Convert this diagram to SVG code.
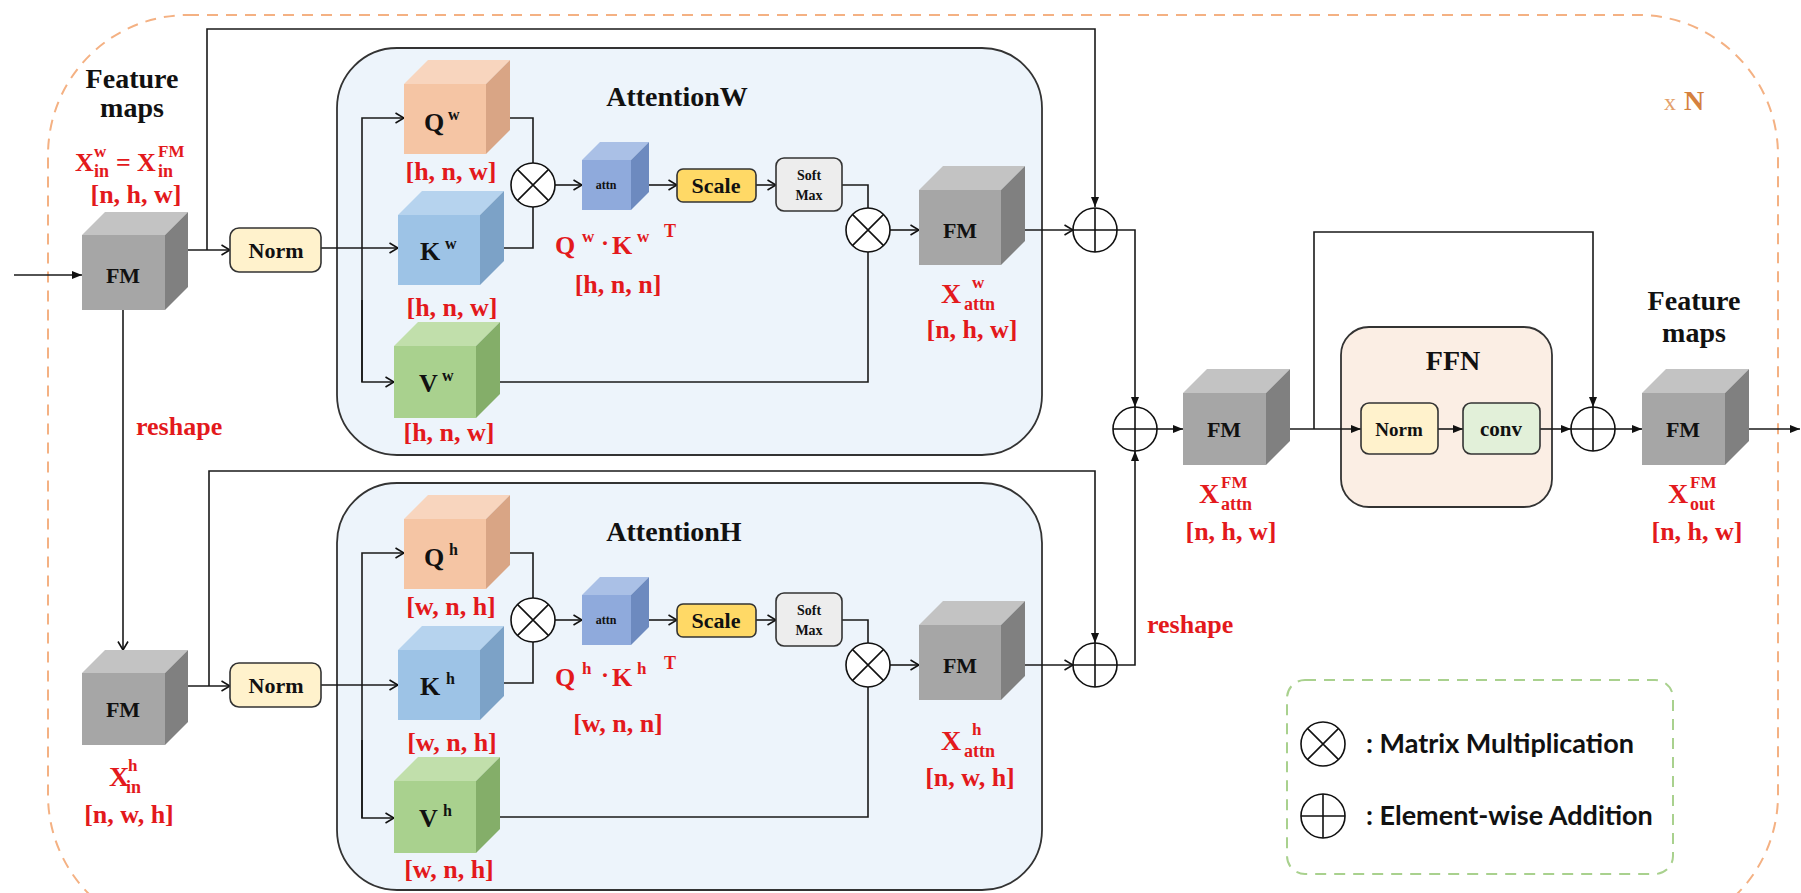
<svg xmlns="http://www.w3.org/2000/svg" width="1801" height="893" viewBox="0 0 1801 893">
<defs>
<style>
.t{font-family:"Liberation Serif","Times New Roman",serif;font-weight:bold;fill:#111}
.r{fill:#E3191C}
.m{text-anchor:middle}
.lb{font-size:26px}
.sup{font-size:17px}
.sub{font-size:18px}
.big{font-size:28px}
.fm{font-size:22px}
.con{fill:none;stroke:#1a1a1a;stroke-width:1.6}
.op{stroke:#111;stroke-width:1.6;fill:#fff}
.panel{fill:#EDF4FB;stroke:#333;stroke-width:1.8}
.box{stroke:#333;stroke-width:1.6}
.fmF{fill:#A6A6A6}.fmT{fill:#C3C3C3}.fmS{fill:#808080}
.qF{fill:#F5C5A4}.qT{fill:#F8D5BE}.qS{fill:#D9A585}
.kF{fill:#9DC3E6}.kT{fill:#B6D3EE}.kS{fill:#7CA2C7}
.vF{fill:#A9D18E}.vT{fill:#C1DFAB}.vS{fill:#84AE69}
.aF{fill:#8FAADC}.aT{fill:#AAC0E6}.aS{fill:#6D8ABF}
.leg{font-family:Lato,"Open Sans","Liberation Sans",sans-serif;font-weight:bold;font-size:27px;fill:#111}
</style>
<marker id="open" viewBox="0 0 10 12" refX="9.5" refY="6" markerWidth="10" markerHeight="12" markerUnits="userSpaceOnUse" orient="auto">
<path d="M1,1 L9.5,6 L1,11" fill="none" stroke="#111" stroke-width="1.6"/>
</marker>
<marker id="tri" viewBox="0 0 10 8" refX="10" refY="4" markerWidth="10" markerHeight="8" markerUnits="userSpaceOnUse" orient="auto">
<path d="M0,0 L10,4 L0,8 z" fill="#111"/>
</marker>
<g id="otimes"><circle r="22" class="op"/><path d="M-15.6,-15.6 L15.6,15.6 M15.6,-15.6 L-15.6,15.6" stroke="#111" stroke-width="1.6"/></g>
<g id="oplus"><circle r="22" class="op"/><path d="M-22,0 H22 M0,-22 V22" stroke="#111" stroke-width="1.6"/></g>
</defs>

<rect width="1801" height="893" fill="#fff"/>

<!-- outer repeat block -->
<g id="repeat-block">
<rect x="48" y="15" width="1730" height="920" rx="140" fill="none" stroke="#F4B183" stroke-width="2" stroke-dasharray="11 8"/>
<text x="1664" y="110" font-family="Liberation Serif,serif" font-size="24" fill="#E3A06A">x</text>
<text x="1684" y="110" font-family="Liberation Serif,serif" font-size="28" font-weight="bold" fill="#D5813E">N</text>
</g>

<!-- panels -->
<g id="attentionW">
<rect class="panel" x="337" y="48" width="705" height="407" rx="60"/>
<text class="t big m" x="677" y="106">AttentionW</text>
</g>
<g id="attentionH">
<rect class="panel" x="337" y="483" width="705" height="407" rx="60"/>
<text class="t big m" x="674" y="541">AttentionH</text>
</g>
<g id="ffn">
<rect x="1341" y="327" width="211" height="180" rx="28" fill="#FBEEE4" stroke="#333" stroke-width="1.8"/>
<text class="t big m" x="1453" y="370">FFN</text>
</g>

<!-- connectors -->
<g id="connectors">
<path class="con" d="M14,275 H82" marker-end="url(#tri)"/>
<path class="con" d="M188,250 H230" marker-end="url(#open)"/>
<path class="con" d="M207,250 V29 H1095 V207" marker-end="url(#tri)"/>
<path class="con" d="M321,248 H398" marker-end="url(#open)"/>
<path class="con" d="M362,382 V118 H404" marker-end="url(#open)"/>
<path class="con" d="M362,300 V382 H394" marker-end="url(#open)"/>
<path class="con" d="M510,118 H533 V163"/>
<path class="con" d="M504,248 H533 V207"/>
<path class="con" d="M555,185 H582" marker-end="url(#open)"/>
<path class="con" d="M649,185 H677" marker-end="url(#open)"/>
<path class="con" d="M756,185 H776" marker-end="url(#open)"/>
<path class="con" d="M842,185 H868 V208"/>
<path class="con" d="M500,382 H868 V252"/>
<path class="con" d="M890,230 H919" marker-end="url(#open)"/>
<path class="con" d="M1025,230 H1073" marker-end="url(#open)"/>
<path class="con" d="M1117,230 H1135 V407" marker-end="url(#tri)"/>
<path class="con" d="M1157,429 H1183" marker-end="url(#tri)"/>
<path class="con" d="M1290,429 H1361" marker-end="url(#tri)"/>
<path class="con" d="M1314,429 V232 H1593 V407" marker-end="url(#tri)"/>
<path class="con" d="M1438,429 H1463" marker-end="url(#tri)"/>
<path class="con" d="M1540,429 H1571" marker-end="url(#tri)"/>
<path class="con" d="M1615,429 H1642" marker-end="url(#tri)"/>
<path class="con" d="M1749,429 H1800" marker-end="url(#tri)"/>
<path class="con" d="M123,310 V650" marker-end="url(#open)"/>
<path class="con" d="M188,686 H230" marker-end="url(#open)"/>
<path class="con" d="M209,686 V471 H1095 V643" marker-end="url(#tri)"/>
<path class="con" d="M321,685 H398" marker-end="url(#open)"/>
<path class="con" d="M362,818 V553 H404" marker-end="url(#open)"/>
<path class="con" d="M362,740 V818 H394" marker-end="url(#open)"/>
<path class="con" d="M510,553 H533 V598"/>
<path class="con" d="M504,683 H533 V642"/>
<path class="con" d="M555,620 H582" marker-end="url(#open)"/>
<path class="con" d="M649,620 H677" marker-end="url(#open)"/>
<path class="con" d="M756,620 H776" marker-end="url(#open)"/>
<path class="con" d="M842,620 H868 V643"/>
<path class="con" d="M500,817 H868 V687"/>
<path class="con" d="M890,665 H919" marker-end="url(#open)"/>
<path class="con" d="M1025,665 H1073" marker-end="url(#open)"/>
<path class="con" d="M1117,665 H1135 V451" marker-end="url(#tri)"/>
</g>

<!-- left inputs -->
<g id="fm-in-w">
<polygon class="fmT" points="82,235 105,212 188,212 165,235"/>
<polygon class="fmS" points="165,235 188,212 188,287 165,310"/>
<rect class="fmF" x="82" y="235" width="83" height="75"/>
<text class="t fm m" x="123" y="283">FM</text>
<text class="t big m" x="132" y="88" font-size="27">Feature</text>
<text class="t big m" x="132" y="117" font-size="27">maps</text>
<text class="t r lb" x="75" y="171">X<tspan class="sup" x="94" y="157">w</tspan><tspan class="sub" x="94" y="177">in</tspan><tspan x="116" y="171">=</tspan><tspan x="137" y="171">X</tspan><tspan class="sup" x="158" y="157">FM</tspan><tspan class="sub" x="158" y="177">in</tspan></text>
<text class="t r lb m" x="136" y="203">[n, h, w]</text>
</g>
<g id="norm-w">
<rect class="box" x="230" y="228" width="91" height="44" rx="9" fill="#FFF2CC"/>
<text class="t fm m" x="276" y="258">Norm</text>
</g>
<g id="reshape-left"><text class="t r lb" x="136" y="435" font-size="27">reshape</text></g>

<g id="fm-in-h">
<polygon class="fmT" points="82,673 105,650 188,650 165,673"/>
<polygon class="fmS" points="165,673 188,650 188,722 165,745"/>
<rect class="fmF" x="82" y="673" width="83" height="72"/>
<text class="t fm m" x="123" y="717">FM</text>
<text class="t r big" x="109" y="786">X<tspan class="sup" x="128" y="771">h</tspan><tspan class="sub" x="126" y="793">in</tspan></text>
<text class="t r lb m" x="129" y="823">[n, w, h]</text>
</g>
<g id="norm-h">
<rect class="box" x="230" y="663" width="91" height="44" rx="9" fill="#FFF2CC"/>
<text class="t fm m" x="276" y="693">Norm</text>
</g>

<!-- AttentionW nodes -->
<g id="q-w">
<polygon class="qT" points="404,84 428,60 510,60 486,84"/>
<polygon class="qS" points="486,84 510,60 510,130 486,154"/>
<rect class="qF" x="404" y="84" width="82" height="70"/>
<text class="t lb" x="424" y="131">Q<tspan font-size="16" x="448" y="120">w</tspan></text>
<text class="t r lb m" x="451" y="180">[h, n, w]</text>
</g>
<g id="k-w">
<polygon class="kT" points="398,215 422,191 504,191 480,215"/>
<polygon class="kS" points="480,215 504,191 504,261 480,285"/>
<rect class="kF" x="398" y="215" width="82" height="70"/>
<text class="t lb" x="420" y="260">K<tspan font-size="16" x="445" y="249">w</tspan></text>
<text class="t r lb m" x="452" y="316">[h, n, w]</text>
</g>
<g id="v-w">
<polygon class="vT" points="394,346 418,322 500,322 476,346"/>
<polygon class="vS" points="476,346 500,322 500,394 476,418"/>
<rect class="vF" x="394" y="346" width="82" height="72"/>
<text class="t lb" x="419" y="392">V<tspan font-size="16" x="442" y="381">w</tspan></text>
<text class="t r lb m" x="449" y="441">[h, n, w]</text>
</g>
<g id="mul1-w"><use href="#otimes" x="533" y="185"/></g>
<g id="attn-w">
<polygon class="aT" points="582,160 600,142 649,142 631,160"/>
<polygon class="aS" points="631,160 649,142 649,192 631,210"/>
<rect class="aF" x="582" y="160" width="49" height="50"/>
<text class="t m" x="606" y="189" font-size="12">attn</text>
<text class="t r lb" x="555" y="254">Q<tspan class="sup" x="582" y="242">w</tspan><tspan x="601" y="251" font-size="24">·</tspan><tspan x="612" y="254">K</tspan><tspan class="sup" x="637" y="242">w</tspan><tspan class="sub" x="664" y="237">T</tspan></text>
<text class="t r lb m" x="618" y="293">[h, n, n]</text>
</g>
<g id="scale-w">
<rect class="box" x="677" y="169" width="79" height="33" rx="6" fill="#FFD966"/>
<text class="t fm m" x="716" y="193">Scale</text>
</g>
<g id="softmax-w">
<rect class="box" x="776" y="158" width="66" height="53" rx="8" fill="#EDEDED"/>
<text class="t m" x="809" y="180" font-size="14" fill="#333">Soft</text>
<text class="t m" x="809" y="200" font-size="14" fill="#333">Max</text>
</g>
<g id="mul2-w"><use href="#otimes" x="868" y="230"/></g>
<g id="fm-attn-w">
<polygon class="fmT" points="919,190 943,166 1025,166 1001,190"/>
<polygon class="fmS" points="1001,190 1025,166 1025,241 1001,265"/>
<rect class="fmF" x="919" y="190" width="82" height="75"/>
<text class="t fm m" x="960" y="238">FM</text>
<text class="t r big" x="941" y="303">X<tspan class="sup" x="972" y="288">w</tspan><tspan class="sub" x="964" y="310">attn</tspan></text>
<text class="t r lb m" x="972" y="338">[n, h, w]</text>
</g>
<g id="add-w"><use href="#oplus" x="1095" y="230"/></g>

<!-- AttentionH nodes -->
<g id="q-h">
<polygon class="qT" points="404,519 428,495 510,495 486,519"/>
<polygon class="qS" points="486,519 510,495 510,565 486,589"/>
<rect class="qF" x="404" y="519" width="82" height="70"/>
<text class="t lb" x="424" y="566">Q<tspan font-size="16" x="449" y="555">h</tspan></text>
<text class="t r lb m" x="451" y="615">[w, n, h]</text>
</g>
<g id="k-h">
<polygon class="kT" points="398,650 422,626 504,626 480,650"/>
<polygon class="kS" points="480,650 504,626 504,696 480,720"/>
<rect class="kF" x="398" y="650" width="82" height="70"/>
<text class="t lb" x="420" y="695">K<tspan font-size="16" x="446" y="684">h</tspan></text>
<text class="t r lb m" x="452" y="751">[w, n, h]</text>
</g>
<g id="v-h">
<polygon class="vT" points="394,781 418,757 500,757 476,781"/>
<polygon class="vS" points="476,781 500,757 500,829 476,853"/>
<rect class="vF" x="394" y="781" width="82" height="72"/>
<text class="t lb" x="419" y="827">V<tspan font-size="16" x="443" y="816">h</tspan></text>
<text class="t r lb m" x="449" y="878">[w, n, h]</text>
</g>
<g id="mul1-h"><use href="#otimes" x="533" y="620"/></g>
<g id="attn-h">
<polygon class="aT" points="582,595 600,577 649,577 631,595"/>
<polygon class="aS" points="631,595 649,577 649,627 631,645"/>
<rect class="aF" x="582" y="595" width="49" height="50"/>
<text class="t m" x="606" y="624" font-size="12">attn</text>
<text class="t r lb" x="555" y="686">Q<tspan class="sup" x="582" y="674">h</tspan><tspan x="601" y="683" font-size="24">·</tspan><tspan x="612" y="686">K</tspan><tspan class="sup" x="637" y="674">h</tspan><tspan class="sub" x="664" y="669">T</tspan></text>
<text class="t r lb m" x="618" y="732">[w, n, n]</text>
</g>
<g id="scale-h">
<rect class="box" x="677" y="604" width="79" height="33" rx="6" fill="#FFD966"/>
<text class="t fm m" x="716" y="628">Scale</text>
</g>
<g id="softmax-h">
<rect class="box" x="776" y="593" width="66" height="53" rx="8" fill="#EDEDED"/>
<text class="t m" x="809" y="615" font-size="14" fill="#333">Soft</text>
<text class="t m" x="809" y="635" font-size="14" fill="#333">Max</text>
</g>
<g id="mul2-h"><use href="#otimes" x="868" y="665"/></g>
<g id="fm-attn-h">
<polygon class="fmT" points="919,625 943,601 1025,601 1001,625"/>
<polygon class="fmS" points="1001,625 1025,601 1025,676 1001,700"/>
<rect class="fmF" x="919" y="625" width="82" height="75"/>
<text class="t fm m" x="960" y="673">FM</text>
<text class="t r big" x="941" y="750">X<tspan class="sup" x="972" y="735">h</tspan><tspan class="sub" x="964" y="757">attn</tspan></text>
<text class="t r lb m" x="970" y="786">[n, w, h]</text>
</g>
<g id="add-h"><use href="#oplus" x="1095" y="665"/></g>
<g id="reshape-right"><text class="t r lb" x="1147" y="633" font-size="27">reshape</text></g>

<!-- merge and FFN -->
<g id="add-merge"><use href="#oplus" x="1135" y="429"/></g>
<g id="fm-attn">
<polygon class="fmT" points="1183,393 1207,369 1290,369 1266,393"/>
<polygon class="fmS" points="1266,393 1290,369 1290,441 1266,465"/>
<rect class="fmF" x="1183" y="393" width="83" height="72"/>
<text class="t fm m" x="1224" y="437">FM</text>
<text class="t r big" x="1199" y="503">X<tspan class="sup" x="1221" y="488">FM</tspan><tspan class="sub" x="1221" y="510">attn</tspan></text>
<text class="t r lb m" x="1231" y="540">[n, h, w]</text>
</g>
<g id="ffn-norm">
<rect class="box" x="1361" y="403" width="77" height="51" rx="8" fill="#FFF2CC"/>
<text class="t m" x="1399" y="436" font-size="19">Norm</text>
</g>
<g id="ffn-conv">
<rect class="box" x="1463" y="403" width="77" height="51" rx="8" fill="#E2F0D9"/>
<text class="t m" x="1501" y="436" font-size="21">conv</text>
</g>
<g id="add-ffn"><use href="#oplus" x="1593" y="429"/></g>
<g id="fm-out">
<polygon class="fmT" points="1642,393 1666,369 1749,369 1725,393"/>
<polygon class="fmS" points="1725,393 1749,369 1749,441 1725,465"/>
<rect class="fmF" x="1642" y="393" width="83" height="72"/>
<text class="t fm m" x="1683" y="437">FM</text>
<text class="t big m" x="1694" y="310" font-size="27">Feature</text>
<text class="t big m" x="1694" y="342" font-size="27">maps</text>
<text class="t r big" x="1668" y="503">X<tspan class="sup" x="1690" y="488">FM</tspan><tspan class="sub" x="1690" y="510">out</tspan></text>
<text class="t r lb m" x="1697" y="540">[n, h, w]</text>
</g>

<!-- legend -->
<g id="legend">
<rect x="1287" y="680" width="386" height="194" rx="18" fill="none" stroke="#A9D18E" stroke-width="2" stroke-dasharray="11 8"/>
<use href="#otimes" x="1323" y="744"/>
<text class="leg" x="1366" y="753">: Matrix Multiplication</text>
<use href="#oplus" x="1323" y="816"/>
<text class="leg" x="1366" y="825">: Element-wise Addition</text>
</g>
</svg>
